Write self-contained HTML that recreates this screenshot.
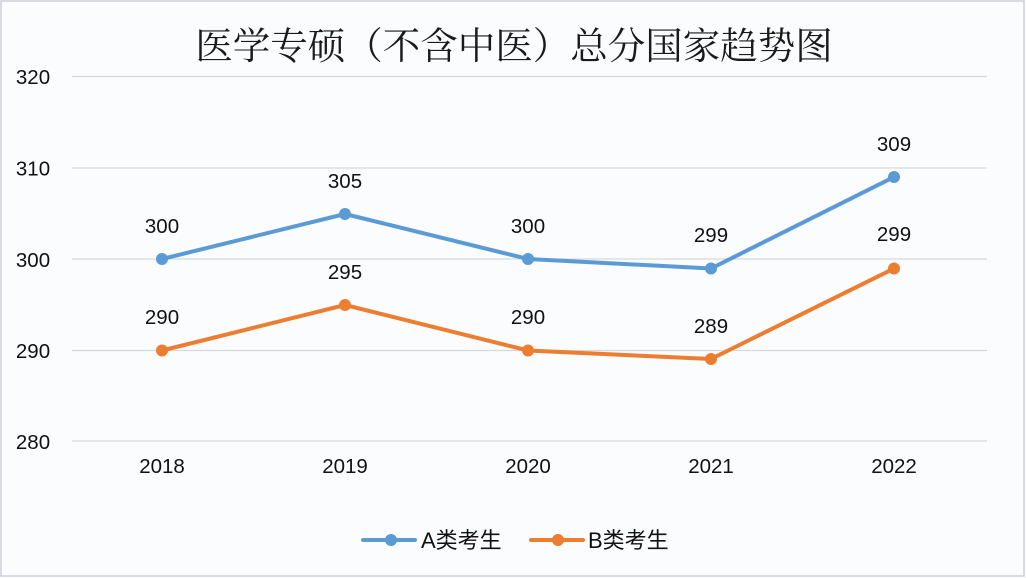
<!DOCTYPE html>
<html>
<head>
<meta charset="utf-8">
<style>
  html,body{margin:0;padding:0;background:#fff;}
  body{width:1026px;height:578px;overflow:hidden;}
  svg{display:block;}
  .t{font-family:"Liberation Sans","Noto Sans CJK SC",sans-serif;font-size:20.5px;fill:#111;}
</style>
</head>
<body>
<svg width="1026" height="578" viewBox="0 0 1026 578" xmlns="http://www.w3.org/2000/svg">
  <rect x="0" y="0" width="1026" height="578" fill="#fbfcfe"/>
  <rect x="1" y="1" width="1023" height="575" fill="none" stroke="#cfd0d8" stroke-width="1.5"/>

  <text x="514" y="59" text-anchor="middle" font-family="'Noto Serif CJK SC','Noto Sans CJK SC',serif" font-size="37.5" fill="#1a1a1a">医学专硕（不含中医）总分国家趋势图</text>

  <!-- gridlines -->
  <g stroke="#d6d8de" stroke-width="1.3">
    <line x1="72" y1="76.5" x2="987" y2="76.5"/>
    <line x1="72" y1="168" x2="987" y2="168"/>
    <line x1="72" y1="259" x2="987" y2="259"/>
    <line x1="72" y1="350.5" x2="987" y2="350.5"/>
    <line x1="72" y1="441" x2="987" y2="441"/>
  </g>

  <!-- y labels -->
  <g class="t" text-anchor="middle">
    <text x="33" y="84">320</text>
    <text x="33" y="175.5">310</text>
    <text x="33" y="267">300</text>
    <text x="33" y="358">290</text>
    <text x="33" y="449">280</text>
  </g>

  <!-- x labels -->
  <g class="t" text-anchor="middle">
    <text x="162" y="473">2018</text>
    <text x="345" y="473">2019</text>
    <text x="528" y="473">2020</text>
    <text x="711" y="473">2021</text>
    <text x="894" y="473">2022</text>
  </g>

  <!-- series A -->
  <polyline points="162,259 345,214 528,259 711,268.5 894,177" fill="none" stroke="#5b9bd5" stroke-width="4" stroke-linejoin="round"/>
  <g fill="#5b9bd5">
    <circle cx="162" cy="259" r="6"/>
    <circle cx="345" cy="214" r="6"/>
    <circle cx="528" cy="259" r="6"/>
    <circle cx="711" cy="268.5" r="6"/>
    <circle cx="894" cy="177" r="6"/>
  </g>

  <!-- series B -->
  <polyline points="162,350.5 345,305 528,350.5 711,359 894,268.5" fill="none" stroke="#ed7d31" stroke-width="4" stroke-linejoin="round"/>
  <g fill="#ed7d31">
    <circle cx="162" cy="350.5" r="6"/>
    <circle cx="345" cy="305" r="6"/>
    <circle cx="528" cy="350.5" r="6"/>
    <circle cx="711" cy="359" r="6"/>
    <circle cx="894" cy="268.5" r="6"/>
  </g>

  <!-- data labels -->
  <g class="t" text-anchor="middle">
    <text x="162" y="233">300</text>
    <text x="345" y="188">305</text>
    <text x="528" y="233">300</text>
    <text x="711" y="242">299</text>
    <text x="894" y="151">309</text>

    <text x="162" y="324">290</text>
    <text x="345" y="279">295</text>
    <text x="528" y="324">290</text>
    <text x="711" y="333">289</text>
    <text x="894" y="241">299</text>
  </g>

  <!-- legend -->
  <line x1="363" y1="540" x2="415" y2="540" stroke="#5b9bd5" stroke-width="4" stroke-linecap="round"/>
  <circle cx="391" cy="540" r="6" fill="#5b9bd5"/>
  <text x="421" y="548" font-family="'Liberation Sans','Noto Sans CJK SC',sans-serif" font-size="22" fill="#111">A类考生</text>

  <line x1="531" y1="540" x2="583" y2="540" stroke="#ed7d31" stroke-width="4" stroke-linecap="round"/>
  <circle cx="558" cy="540" r="6" fill="#ed7d31"/>
  <text x="588" y="548" font-family="'Liberation Sans','Noto Sans CJK SC',sans-serif" font-size="22" fill="#111">B类考生</text>
</svg>
</body>
</html>
